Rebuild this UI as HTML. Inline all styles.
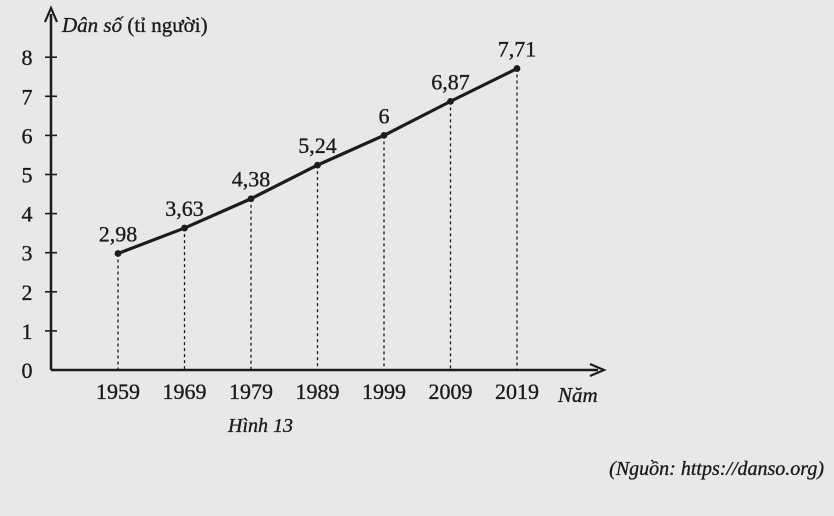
<!DOCTYPE html>
<html><head><meta charset="utf-8"><style>
html,body{margin:0;padding:0;background:#e8e8e9;}
svg{display:block;font-family:"Liberation Serif",serif;}
text{stroke:#1c1c1c;stroke-width:0.35px;}
</style></head><body>
<svg width="834" height="516" viewBox="0 0 834 516" xmlns="http://www.w3.org/2000/svg">
<rect width="834" height="516" fill="#e8e8e9"/>
<g id="chart" fill="#1c1c1c" stroke="none"></g>
<text x="228" y="432" font-size="20" font-style="italic" fill="#1c1c1c">Hình 13</text>
<text x="824" y="475" font-size="20" font-style="italic" text-anchor="end" fill="#1c1c1c">(Nguồn: https://danso.org)</text>
</svg>
<script>
const years = ["1959","1969","1979","1989","1999","2009","2019"];
const values = [2.98,3.63,4.38,5.24,6,6.87,7.71];
const valueLabels = ["2,98","3,63","4,38","5,24","6","6,87","7,71"];
const yTicks = [0,1,2,3,4,5,6,7,8];

const NS="http://www.w3.org/2000/svg";
const g=document.getElementById('chart');
const x0=51, y0=370, unit=39.1, xFirst=118, xStep=66.5;
const xs=i=>xFirst+i*xStep;
const ys=v=>y0-v*unit;
function mk(tag,attrs){const e=document.createElementNS(NS,tag);for(const k in attrs)e.setAttribute(k,attrs[k]);g.appendChild(e);return e;}

let ax=mk('line',{x1:x0,y1:y0,x2:598,y2:y0,stroke:'#1c1c1c','stroke-width':2.5});


let ay=mk('line',{x1:x0,y1:y0,x2:x0,y2:14,stroke:'#1c1c1c','stroke-width':2.5});


let arx=mk('path',{d:'M590,364 L604,370 L590,376',fill:'none',stroke:'#1c1c1c','stroke-width':2.2});


let ary=mk('path',{d:'M45,22 L51,8 L57,22',fill:'none',stroke:'#1c1c1c','stroke-width':2.2});



let yt=mk('text',{x:62,y:32,'font-size':21,fill:'#1c1c1c'});
yt.innerHTML='<tspan font-style="italic">Dân số</tspan> (tỉ người)';


let xt=mk('text',{x:558,y:402,'font-size':21,'font-style':'italic',fill:'#1c1c1c'});
xt.textContent='Năm';



yTicks.forEach(t=>{
  const y=ys(t);
  if(t>0){let l=mk('line',{x1:x0-6,y1:y,x2:x0+6,y2:y,stroke:'#1c1c1c','stroke-width':1.6});
  
  }
  let tx=mk('text',{x:27,y:y+8,'font-size':22,'text-anchor':'middle'});
  tx.textContent=t;
  
  
});

years.forEach((yr,i)=>{
  const x=xs(i), y=ys(values[i]);
  let d=mk('line',{x1:x,y1:y,x2:x,y2:y0,stroke:'#1c1c1c','stroke-width':1.3,'stroke-dasharray':'3,3'});
  
  
  let tl=mk('text',{x:x,y:y0+29,'font-size':22,'text-anchor':'middle'});
  tl.textContent=yr;
  
  
});

const pts=values.map((v,i)=>xs(i)+','+ys(v)).join(' ');
let pl=mk('polyline',{points:pts,fill:'none',stroke:'#1c1c1c','stroke-width':3.2});



values.forEach((v,i)=>{
  const x=xs(i), y=ys(v);
  let c=mk('circle',{cx:x,cy:y,r:3.4});
  
  
  let lb=mk('text',{x:x,y:y-12,'font-size':22,'text-anchor':'middle'});
  lb.textContent=valueLabels[i];
  
  
});
</script>
</body></html>
